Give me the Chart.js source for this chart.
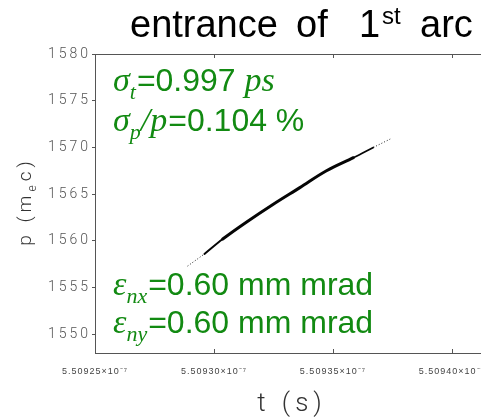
<!DOCTYPE html>
<html>
<head>
<meta charset="utf-8">
<script src="https://cdn.jsdelivr.net/npm/chart.js@4.4.1/dist/chart.umd.min.js"></script>
<style>
  html, body { margin: 0; padding: 0; background: #fff; overflow: hidden; width: 481px; height: 418px; }
  #wrap { position: relative; width: 481px; height: 418px; overflow: hidden; }
  #wrap canvas { position: absolute; left: 0; top: 0; }
</style>
</head>
<body>
<div id="wrap"><canvas id="c" width="560" height="418" style="width:560px;height:418px"></canvas></div>
<script>
// Longitudinal phase space at the entrance of the 1st arc: time t (s) vs momentum p (m_e c)

// sparse leading tail of the bunch
const tailHeadT = [5.5092889e-7, 5.5092960e-7];
const tailHeadP = [1557.3, 1558.6];

// dense core of the bunch
const coreT = [5.5092960e-7, 5.5093037e-7, 5.5093136e-7, 5.5093248e-7, 5.5093361e-7, 5.5093473e-7, 5.5093586e-7, 5.5093670e-7];
const coreP = [1558.6, 1560.2, 1562.0, 1563.9, 1565.7, 1567.5, 1568.9, 1570.0];

// sparse trailing tail of the bunch
const tailEndT = [5.5093670e-7, 5.5093741e-7];
const tailEndP = [1570.0, 1570.9];

// axis ticks
const xTicks = [5.50925e-7, 5.50930e-7, 5.50935e-7, 5.50940e-7];
const xTickLabels = ['5.50925×10⁻⁷', '5.50930×10⁻⁷', '5.50935×10⁻⁷', '5.50940×10⁻⁷'];
const yTicks = [1550, 1555, 1560, 1565, 1570, 1575, 1580];
const yTickLabels = ['1550', '1555', '1560', '1565', '1570', '1575', '1580'];

// beam parameters printed on the plot
const sigmaT = '0.997';
const sigmaPrel = '0.104';
const emitNX = '0.60';
const emitNY = '0.60';

const pts = (ts, ps) => ts.map((t, i) => ({ x: t, y: ps[i] }));

const GREEN = 'rgb(18,138,18)';
const SERIF_I = 'italic 34px "Liberation Serif", "Times New Roman", serif';
const SUB_I = 'italic 22px "Liberation Serif", "Times New Roman", serif';
const SANS = '32px "Liberation Sans", Arial, sans-serif';

function drawRuns(ctx, x, y, runs) {
  for (const r of runs) {
    ctx.font = r.font;
    x += r.dx || 0;
    ctx.fillText(r.text, x, y + (r.dy || 0));
    x += ctx.measureText(r.text).width;
  }
  return x;
}
function runsWidth(ctx, runs) {
  let w = 0;
  for (const r of runs) { ctx.font = r.font; w += (r.dx || 0) + ctx.measureText(r.text).width; }
  return w;
}

const decorations = {
  id: 'decorations',
  beforeDraw(chart) { chart.ctx.letterSpacing = '3px'; },
  afterDatasetsDraw(chart) { chart.ctx.letterSpacing = '1px'; },
  afterDraw(chart) {
    const ctx = chart.ctx;
    const a = chart.chartArea;
    const xs = chart.scales.x;
    ctx.save();
    ctx.letterSpacing = '0px';

    // top frame line and inward x tick marks
    ctx.strokeStyle = '#555';
    ctx.lineWidth = 1;
    ctx.beginPath();
    ctx.moveTo(a.left, a.top + 0.5);
    ctx.lineTo(a.right, a.top + 0.5);
    for (const v of xTicks) {
      const px = Math.round(xs.getPixelForValue(v)) + 0.5;
      ctx.moveTo(px, a.top); ctx.lineTo(px, a.top + 4);
      ctx.moveTo(px, a.bottom); ctx.lineTo(px, a.bottom - 4);
    }
    ctx.stroke();

    // title
    ctx.fillStyle = '#000';
    ctx.textBaseline = 'alphabetic';
    ctx.textAlign = 'left';
    const TF = '38px "Liberation Sans", Arial, sans-serif';
    ctx.font = TF;
    ctx.fillText('entrance', 130, 37);
    ctx.fillText('of', 296, 37);
    ctx.fillText('1', 359, 37);
    ctx.font = '24px "Liberation Sans", Arial, sans-serif';
    ctx.fillText('st', 382, 24);
    ctx.font = TF;
    ctx.fillText('arc', 420, 37);

    // beam parameters
    ctx.fillStyle = GREEN;
    drawRuns(ctx, 113, 91, [
      { text: 'σ', font: SERIF_I },
      { text: 't', font: SUB_I, dy: 8 },
      { text: '=' + sigmaT + ' ', font: SANS, dx: 1 },
      { text: 'ps', font: SERIF_I }
    ]);
    drawRuns(ctx, 113, 131, [
      { text: 'σ', font: SERIF_I },
      { text: 'p', font: SUB_I, dy: 8 },
      { text: '/', font: SERIF_I },
      { text: 'p', font: SERIF_I },
      { text: '=' + sigmaPrel + ' %', font: SANS, dx: 1 }
    ]);
    drawRuns(ctx, 113, 295, [
      { text: 'ε', font: SERIF_I },
      { text: 'nx', font: SUB_I, dy: 8 },
      { text: '=' + emitNX + ' mm mrad', font: SANS, dx: 1 }
    ]);
    drawRuns(ctx, 113, 333, [
      { text: 'ε', font: SERIF_I },
      { text: 'ny', font: SUB_I, dy: 8 },
      { text: '=' + emitNY + ' mm mrad', font: SANS, dx: 1 }
    ]);

    // axis titles
    ctx.fillStyle = '#333';
    const AF = '300 19px Roboto, "Liberation Sans", sans-serif';
    const AFS = '300 12px Roboto, "Liberation Sans", sans-serif';
    ctx.letterSpacing = '4px';
    const yRuns = [
      { text: 'p (m', font: AF },
      { text: 'e', font: AFS, dy: 5 },
      { text: 'c)', font: AF }
    ];
    const yw = runsWidth(ctx, yRuns);
    ctx.save();
    ctx.translate(31, (a.top + a.bottom) / 2 - 2);
    ctx.rotate(-Math.PI / 2);
    drawRuns(ctx, -yw / 2, 0, yRuns);
    ctx.restore();

    ctx.letterSpacing = '5px';
    ctx.font = '300 26px Roboto, "Liberation Sans", sans-serif';
    ctx.textAlign = 'center';
    ctx.fillText('t (s)', 292, 411);
    ctx.restore();
  }
};

// the core band is thinner where it runs into the two tails
const lastCoreSeg = coreT.length - 2;
const coreWidth = c => (c.p0DataIndex === 0 ? 2.0 : c.p0DataIndex === lastCoreSeg ? 1.8 : 3.0);

new Chart(document.getElementById('c'), {
  type: 'scatter',
  data: {
    datasets: [
      { data: pts(tailHeadT, tailHeadP), showLine: true, borderColor: '#222', borderWidth: 1, borderDash: [1, 2], pointRadius: 0 },
      { data: pts(tailEndT, tailEndP), showLine: true, borderColor: '#222', borderWidth: 1, borderDash: [1, 2], pointRadius: 0 },
      {
        data: pts(coreT, coreP), showLine: true, borderColor: '#050505', borderWidth: 3.0,
        tension: 0.35, pointRadius: 0, borderCapStyle: 'round',
        segment: { borderWidth: coreWidth }
      }
    ]
  },
  options: {
    responsive: false,
    animation: false,
    events: [],
    layout: { padding: { top: 54, left: 0, right: 13, bottom: 0 } },
    plugins: { legend: { display: false }, tooltip: { enabled: false }, title: { display: false } },
    scales: {
      x: {
        type: 'linear',
        min: 5.50925e-7,
        max: 5.50944e-7,
        afterBuildTicks: s => { s.ticks = xTicks.map(v => ({ value: v })); },
        afterFit: s => { s.height = 65; },
        grid: { display: true, drawOnChartArea: false, drawTicks: false },
        border: { display: true, color: '#555', width: 1 },
        ticks: {
          z: 1,
          autoSkip: false,
          maxRotation: 0,
          padding: 13,
          color: '#444',
          font: { family: '"Liberation Sans", Arial, sans-serif', size: 9 },
          callback: (v, i) => xTickLabels[i]
        }
      },
      y: {
        type: 'linear',
        min: 1548,
        max: 1580,
        afterBuildTicks: s => { s.ticks = yTicks.map(v => ({ value: v })); },
        afterFit: s => { s.width = 95; },
        grid: { display: true, drawOnChartArea: false, drawTicks: true, tickLength: 3, color: '#555' },
        border: { display: true, color: '#555', width: 1 },
        ticks: {
          autoSkip: false,
          padding: 1,
          color: '#555',
          font: { family: 'Roboto, "Liberation Sans", sans-serif', size: 14, weight: '300' },
          callback: (v, i) => yTickLabels[i]
        }
      }
    }
  },
  plugins: [decorations]
});
</script>
</body>
</html>
